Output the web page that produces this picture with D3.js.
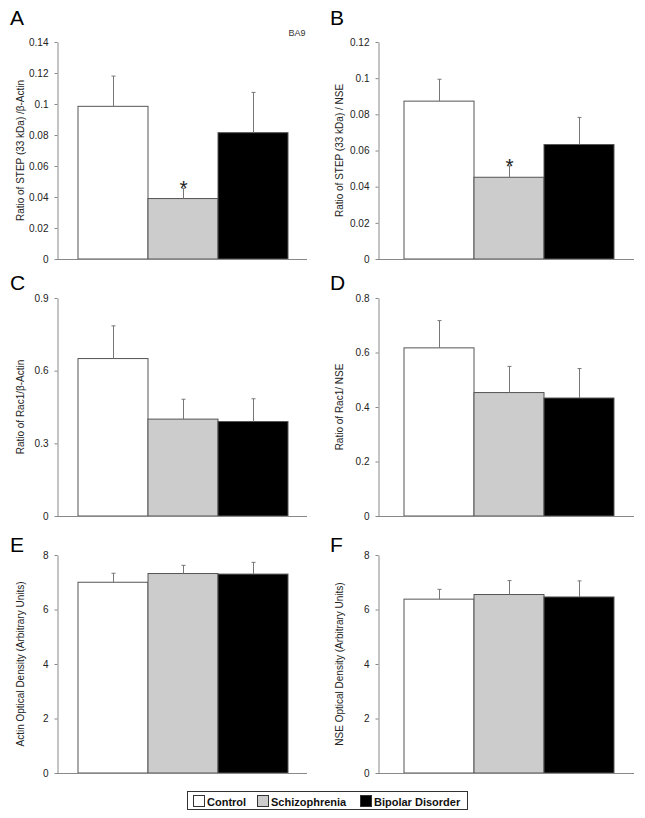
<!DOCTYPE html>
<html><head><meta charset="utf-8">
<script src="https://cdn.jsdelivr.net/npm/d3@7"></script>
<style>
body{margin:0;background:#fff;}
svg{display:block;font-family:"Liberation Sans",Arial,sans-serif;}
</style></head><body>
<svg id="chart" width="645" height="818"></svg>
<script>
// ---- data ----
const groups = ["Control", "Schizophrenia", "Bipolar Disorder"];
const stepActinMean = [0.0985, 0.039, 0.0815];
const stepActinErr  = [0.0195, 0.0066, 0.026];
const stepNseMean   = [0.0873, 0.0452, 0.0633];
const stepNseErr    = [0.0121, 0.0063, 0.0150];
const rac1ActinMean = [0.65, 0.40, 0.39];
const rac1ActinErr  = [0.135, 0.082, 0.094];
const rac1NseMean   = [0.617, 0.453, 0.433];
const rac1NseErr    = [0.100, 0.096, 0.108];
const actinODMean   = [7.0, 7.32, 7.30];
const actinODErr    = [0.33, 0.30, 0.43];
const nseODMean     = [6.38, 6.55, 6.46];
const nseODErr      = [0.36, 0.51, 0.59];
const ticksA = [0, 0.02, 0.04, 0.06, 0.08, 0.1, 0.12, 0.14];
const ticksB = [0, 0.02, 0.04, 0.06, 0.08, 0.1, 0.12];
const ticksC = [0, 0.3, 0.6, 0.9];
const ticksD = [0, 0.2, 0.4, 0.6, 0.8];
const ticksE = [0, 2, 4, 6, 8];
const ticksF = [0, 2, 4, 6, 8];
const significant = [false, true, false]; // asterisk marks (panels A, B)
const labels = {
  A: "Ratio of STEP (33 kDa) /\u03B2-Actin",
  B: "Ratio of STEP (33 kDa) / NSE",
  C: "Ratio of Rac1/\u03B2-Actin",
  D: "Ratio of Rac1/ NSE",
  E: "Actin Optical Density (Arbitrary Units)",
  F: "NSE Optical Density (Arbitrary Units)"
};
const fills = ["#ffffff", "#cccccc", "#000000"];

// ---- layout ----
const cols = [
  {axisX: 57, barL: 78, barR: 288, endX: 307, labelX: 20, letterX: 10},
  {axisX: 378, barL: 404, barR: 614, endX: 634, labelX: 339, letterX: 330}
];
const rows = [
  {top: 42, bot: 259, letterY: 25},
  {top: 298, bot: 516, letterY: 290},
  {top: 555, bot: 773, letterY: 552}
];

const panels = [
  {id: "A", mean: stepActinMean, err: stepActinErr, ticks: ticksA, c: 0, r: 0, star: true},
  {id: "B", mean: stepNseMean, err: stepNseErr, ticks: ticksB, c: 1, r: 0, star: true},
  {id: "C", mean: rac1ActinMean, err: rac1ActinErr, ticks: ticksC, c: 0, r: 1, star: false},
  {id: "D", mean: rac1NseMean, err: rac1NseErr, ticks: ticksD, c: 1, r: 1, star: false},
  {id: "E", mean: actinODMean, err: actinODErr, ticks: ticksE, c: 0, r: 2, star: false},
  {id: "F", mean: nseODMean, err: nseODErr, ticks: ticksF, c: 1, r: 2, star: false}
];

const svg = d3.select("#chart");
const fmt = d3.format("~g");

panels.forEach(p => {
  const col = cols[p.c], row = rows[p.r];
  const g = svg.append("g");
  const y = d3.scaleLinear().domain([0, d3.max(p.ticks)]).range([row.bot, row.top]);
  const x = d3.scaleBand().domain(groups).range([col.barL, col.barR]).padding(0);

  // bars
  g.selectAll("rect.bar").data(groups).join("rect")
    .attr("x", d => x(d)).attr("width", x.bandwidth())
    .attr("y", (d, i) => y(p.mean[i]))
    .attr("height", (d, i) => y(0) - y(p.mean[i]))
    .attr("fill", (d, i) => fills[i])
    .attr("stroke", "#555").attr("stroke-width", 1);

  // error bars (upper)
  groups.forEach((d, i) => {
    const cx = Math.round(x(d) + x.bandwidth() / 2) + 0.5;
    g.append("line").attr("x1", cx).attr("x2", cx)
      .attr("y1", y(p.mean[i])).attr("y2", y(p.mean[i] + p.err[i]))
      .attr("stroke", "#777").attr("stroke-width", 1);
    g.append("line").attr("x1", cx - 2).attr("x2", cx + 2)
      .attr("y1", y(p.mean[i] + p.err[i])).attr("y2", y(p.mean[i] + p.err[i]))
      .attr("stroke", "#777").attr("stroke-width", 1);
    if (p.star && significant[i]) {
      g.append("text").attr("x", cx).attr("y", y(p.mean[i] + p.err[i]) + 7)
        .attr("text-anchor", "middle").attr("font-size", 21).attr("fill", "#222")
        .text("*");
    }
  });

  // y axis
  const ax = g.append("g").attr("transform", `translate(${col.axisX + 0.5},0)`)
    .call(d3.axisLeft(y).tickValues(p.ticks).tickFormat(fmt).tickSize(3).tickSizeOuter(0).tickPadding(6));
  ax.select(".domain").attr("stroke", "#888");
  ax.selectAll(".tick line").attr("stroke", "#888");
  ax.selectAll(".tick text").attr("font-size", 10).attr("fill", "#222")
    .attr("font-family", "'Liberation Sans',Arial,sans-serif");

  // x axis line
  g.append("line").attr("x1", col.axisX).attr("x2", col.endX)
    .attr("y1", row.bot + 0.5).attr("y2", row.bot + 0.5)
    .attr("stroke", "#888").attr("stroke-width", 1);

  // y label
  const midY = (row.top + row.bot) / 2;
  g.append("text")
    .attr("transform", `translate(${col.labelX + 3.5},${midY}) rotate(-90)`)
    .attr("text-anchor", "middle").attr("font-size", 10).attr("fill", "#222")
    .text(labels[p.id]);

  // panel letter
  svg.append("text").attr("x", col.letterX).attr("y", row.letterY)
    .attr("font-size", 21).attr("fill", "#000").text(p.id);
});

// BA9 note
svg.append("text").attr("x", 297).attr("y", 36).attr("text-anchor", "middle")
  .attr("font-size", 9).attr("fill", "#333").text("BA9");

// legend
const lg = svg.append("g");
lg.append("rect").attr("x", 187.5).attr("y", 791.5).attr("width", 280).attr("height", 18)
  .attr("fill", "#fff").attr("stroke", "#333").attr("stroke-width", 1);
const legX = [193, 257, 360];
groups.forEach((d, i) => {
  lg.append("rect").attr("x", legX[i] + 0.5).attr("y", 795.5).attr("width", 11).attr("height", 11)
    .attr("fill", fills[i]).attr("stroke", "#333").attr("stroke-width", 1);
  lg.append("text").attr("x", legX[i] + 14).attr("y", 805.5)
    .attr("font-size", 11).attr("font-weight", "bold").attr("fill", "#111").text(d);
});
</script>
</body></html>
